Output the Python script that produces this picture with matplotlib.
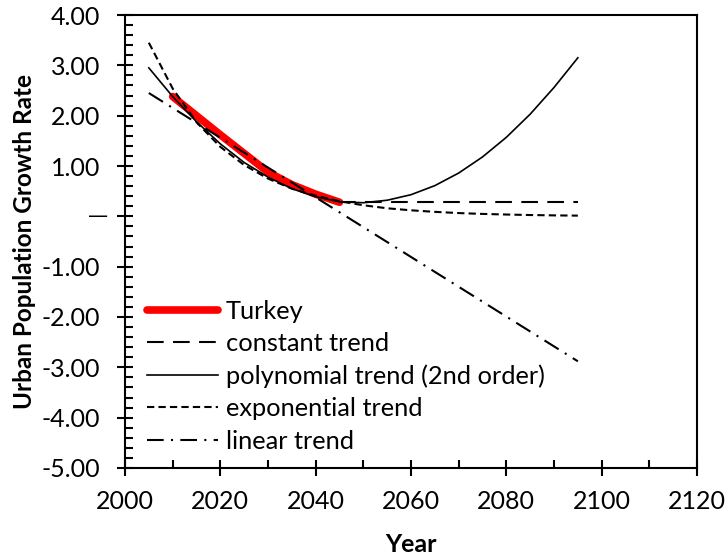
import matplotlib.pyplot as plt
import numpy as np
from matplotlib.ticker import MultipleLocator, FuncFormatter

plt.rcParams['font.family'] = ['Lato', 'DejaVu Sans']

# observed data (Turkey)
years = [2010, 2015, 2020, 2025, 2030, 2035, 2040, 2045]
turkey = [2.38, 2.00, 1.62, 1.25, 0.88, 0.63, 0.44, 0.28]

# trend projections
trend_years = [2005, 2010, 2015, 2020, 2025, 2030, 2035, 2040, 2045, 2050,
               2055, 2060, 2065, 2070, 2075, 2080, 2085, 2090, 2095]
poly_trend = [2.95, 2.38, 1.88, 1.44, 1.07, 0.78, 0.55, 0.39, 0.29, 0.27,
              0.32, 0.43, 0.61, 0.86, 1.18, 1.57, 2.03, 2.56, 3.15]
exp_trend = [3.45, 2.54, 1.87, 1.38, 1.02, 0.75, 0.55, 0.41, 0.30, 0.22,
             0.16, 0.12, 0.089, 0.065, 0.048, 0.036, 0.026, 0.019, 0.014]
const_years = [2045, 2095]
const_trend = [0.28, 0.28]
lin_years = [2005, 2095]
lin_trend = [2.45, -2.88]

fig = plt.figure(figsize=(7.25, 5.58), dpi=100)
ax = fig.add_axes([0.1724, 0.1613, 0.7890, 0.8118])

ax.plot(years, turkey, color='#ff0000', lw=5.5, solid_capstyle='round', label='Turkey', zorder=1)
ax.plot(const_years, const_trend, color='black', lw=1.5, dashes=(8, 4.5), label='constant trend')
ax.plot(trend_years, poly_trend, color='black', lw=1.2, label='polynomial trend (2nd order)')
ax.plot(trend_years, exp_trend, color='black', lw=1.5, dashes=(3.5, 2), label='exponential trend')
ax.plot(lin_years, lin_trend, color='black', lw=1.5, dashes=(8, 3.5, 1, 3.5), label='linear trend')

ax.set_xlim(2000, 2120)
ax.set_ylim(-5, 4)
ax.xaxis.set_major_locator(MultipleLocator(20))
ax.xaxis.set_minor_locator(MultipleLocator(10))
ax.yaxis.set_major_locator(MultipleLocator(1))
ax.yaxis.set_minor_locator(MultipleLocator(0.2))

# Excel accounting style: zero shown as a dash
def yfmt(v, pos):
    if abs(v) < 1e-9:
        return ''
    return '%.2f' % v
ax.yaxis.set_major_formatter(FuncFormatter(yfmt))
ax.annotate('\u2014', xy=(0, 0), xycoords=('axes fraction', 'data'),
            xytext=(-12.5, 0), textcoords='offset points', ha='right', va='center',
            fontsize=14.5, family='DejaVu Sans')

ax.tick_params(which='major', direction='inout', length=12, width=1.5, labelsize=18)
ax.tick_params(which='minor', direction='in', length=6, width=1.5)
ax.tick_params(axis='y', which='major', pad=12)
ax.tick_params(axis='x', which='major', pad=10)
for s in ax.spines.values():
    s.set_linewidth(1.5)

ax.set_xlabel('Year', fontsize=18, fontweight='bold', labelpad=14)
ax.set_ylabel('Urban Population Growth Rate', fontsize=17.5, fontweight='bold', labelpad=4)

ax.legend(loc='lower left', bbox_to_anchor=(0.012, 0.0), frameon=False, fontsize=18.3,
          handlelength=2.8, handletextpad=0.3, labelspacing=0.37, borderaxespad=0.3,
          borderpad=0.3)

plt.savefig('out.png', dpi=100)
